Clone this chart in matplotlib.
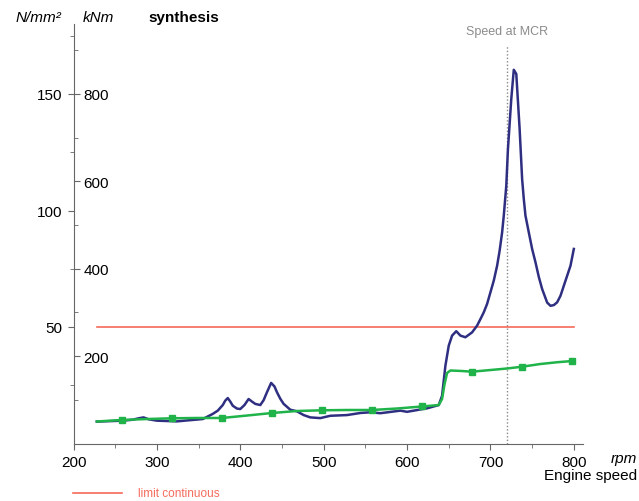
import matplotlib
matplotlib.use("Agg")
import matplotlib.pyplot as plt
from matplotlib.lines import Line2D

plt.rcParams['font.family'] = ['Liberation Sans', 'DejaVu Sans']

# Blue curve: stress in N/mm^2 vs engine speed (rpm)
blue_rpm = [228, 259, 271, 278, 284, 290, 300, 324, 355, 367, 373, 379, 382, 385, 388, 391, 396, 400,
            405, 410, 414, 418, 424, 428, 432, 437, 441, 444, 448, 452, 460, 468, 476, 484, 496, 508,
            528, 544, 556, 568, 592, 600, 624, 638, 642, 646, 650, 654, 659, 664, 670, 678, 684, 688,
            692, 696, 700, 704, 708, 711, 714, 716, 719, 721, 725, 728, 731, 735, 738, 740, 742, 746,
            750, 754, 758, 762, 768, 772, 776, 780, 784, 788, 792, 796, 800]
blue_val = [9.4, 9.8, 10.2, 10.8, 11.2, 10.4, 9.8, 9.5, 10.5, 12.7, 14.1, 16.5, 18.4, 19.5, 18.0, 16.2, 15.0, 14.8,
            16.5, 19.1, 18.0, 17.0, 16.5, 18.6, 22.0, 26.0, 24.5, 22.0, 19.2, 17.0, 14.5, 13.8, 12.2, 11.2, 10.9, 11.9,
            12.2, 13.1, 13.4, 13.0, 14.1, 13.6, 15.1, 16.5, 20.5, 33.4, 42.0, 46.3, 48.2, 46.3, 45.6, 47.7, 50.6, 53.4,
            56.3, 59.9, 64.9, 69.9, 76.3, 82.7, 90.6, 97.8, 110.6, 126.4, 147.9, 160.4, 158.6, 135.0, 113.5, 104.9, 97.8, 90.6,
            83.5, 77.8, 71.5, 66.3, 60.5, 59.1, 59.4, 60.6, 63.4, 67.7, 72.0, 76.3, 83.5]

# Green curve: torque in kNm vs engine speed (rpm)
green_rpm = [228, 258, 288, 318, 348, 378, 408, 438, 468, 498, 528, 558, 588, 618, 638,
             642, 645, 648, 652, 665, 678, 700, 720, 738, 760, 780, 798, 800]
green_val = [50.4, 53.8, 56.0, 57.7, 58.4, 58.4, 64.0, 69.8, 74.4, 76.0, 76.7, 76.7, 80.1, 84.7, 88.1,
             101.9, 136.2, 161.4, 167.1, 166.0, 164.4, 168.2, 171.7, 175.8, 182.0, 186.0, 188.8, 189.3]
green_mark_rpm = [258, 318, 378, 438, 498, 558, 618, 678, 738, 798]
green_mark_val = [53.8, 57.7, 58.4, 69.8, 76.0, 76.7, 84.7, 164.4, 175.8, 188.8]

# Limit line
limit_rpm = [228, 800]
limit_val = [50, 50]
mcr_rpm = 720

x_ticks = [200, 300, 400, 500, 600, 700, 800]
left_ticks = [50, 100, 150]
right_ticks = [200, 400, 600, 800]

W, H = 639, 502
fig = plt.figure(figsize=(W / 100, H / 100), dpi=100)
ax = fig.add_axes([73.5 / W, 1 - 444.5 / H, (583 - 73.5) / W, (444.5 - 25.1) / H])
ax.set_xlim(200, 811)
ax.set_ylim(0, 180)
ax2 = ax.twinx()
ax2.set_ylim(0, 960)

axis_col = '#666666'
for s in ['top', 'right']:
    ax.spines[s].set_visible(False)
for s in ['top', 'left', 'bottom']:
    ax2.spines[s].set_visible(False)
ax2.spines['right'].set_position(('axes', 0))
ax2.spines['right'].set_visible(False)
ax.spines['left'].set_color(axis_col)
ax.spines['bottom'].set_color(axis_col)

ax.set_xticks(x_ticks)
ax.set_xticks([250, 350, 450, 550, 650, 750], minor=True)
ax.set_yticks(left_ticks)
ax.set_yticks([25, 75, 125, 175], minor=True)
ax2.set_yticks(right_ticks)
ax2.set_yticks([100, 300, 500, 700, 900], minor=True)

ax.tick_params(axis='both', which='major', length=4, color=axis_col, labelsize=11, pad=4)
ax.tick_params(axis='both', which='minor', length=3, color=axis_col)
ax2.tick_params(axis='y', which='major', length=4, color=axis_col, labelsize=11, pad=3, direction='out')
ax2.tick_params(axis='y', which='minor', length=3, color=axis_col, direction='out')

# Data
ax.plot(limit_rpm, limit_val, color='#f56a5a', lw=1.2, zorder=2)
ax.plot([mcr_rpm, mcr_rpm], [0, 171], color='#888888', lw=1.0, ls=(0, (1, 1.5)), zorder=1)
ax2.plot(green_rpm, green_val, color='#1fb34a', lw=1.8, zorder=2, solid_joinstyle='round')
ax.plot(blue_rpm, blue_val, color='#2f2f82', lw=1.8, zorder=3, solid_joinstyle='round')
ax2.plot(green_mark_rpm, green_mark_val, ls='none', marker='s', ms=5, color='#1fb34a', zorder=4)
ax2.set_zorder(ax.get_zorder() + 1)
ax2.patch.set_visible(False)


def px(x, y):
    return x / W, 1 - y / H


fig.text(*px(16, 18), 'N/mm²', fontsize=11, style='italic', va='center', ha='left')
fig.text(*px(83, 18), 'kNm', fontsize=11, style='italic', va='center', ha='left')
fig.text(*px(148, 18), 'synthesis', fontsize=11, weight='bold', va='center', ha='left')
fig.text(*px(507, 32), 'Speed at MCR', fontsize=9, color='#8c8c8c', va='center', ha='center')
fig.text(*px(637, 459), 'rpm', fontsize=11, style='italic', va='center', ha='right')
fig.text(*px(637, 476), 'Engine speed', fontsize=11, va='center', ha='right')
fig.add_artist(Line2D([73 / W, 122 / W], [1 - 494 / H, 1 - 494 / H], color='#f56a5a', lw=1.2))
fig.text(*px(138, 494), 'limit continuous', fontsize=8.5, color='#f56a5a', va='center', ha='left')

fig.savefig('out.png', dpi=100)
